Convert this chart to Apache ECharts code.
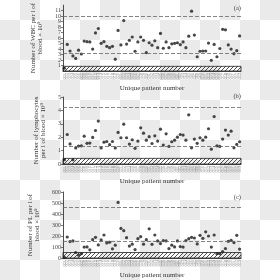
<!DOCTYPE html>
<html><head><meta charset="utf-8">
<script src="https://cdn.jsdelivr.net/npm/echarts@6/dist/echarts.min.js"></script>
<style>
html{background:repeating-conic-gradient(#eaeaea 0 25%, #ffffff 0 50%) 0 0/40px 40px;}
html,body{margin:0;padding:0;}
body{width:280px;height:280px;background:transparent;}
#c{width:280px;height:280px;background:transparent;}
</style></head><body><div id="c"></div>
<script>
const patients = ['001','002','003','004','005','006','007','008','009','010','011','012','013','014','015','016','017','018','019','020','021','022','023','024','025','026','027','028','029','030','031','032','033','034','035','036','037','038','039','040','041','042','043','044','045','046','047','048','049','050','051','052','053','054','055','056','057','058','059','060','061','062','063'];
const wbc = [0.5,4.85,3.65,2.75,2.3,3.8,3.1,5.45,5.35,5.3,4.0,6.95,7.75,5.05,5.35,4.5,4.25,4.5,2.15,7.4,4.75,9.2,4.9,5.6,6.2,3.6,5.3,6.2,5.6,3.35,5.15,4.7,5.5,4.25,6.85,4.15,5.3,4.25,4.95,5.05,5.15,4.8,5.3,4.25,6.35,10.9,6.55,2.6,3.6,3.65,3.65,5.1,1.95,4.85,2.6,4.1,7.6,7.5,4.75,4.0,3.15,3.7,6.4];
const lymph = [0.32,2.2,1.5,0.32,1.2,1.34,1.36,2.08,1.54,1.56,1.98,2.5,3.2,1.2,1.63,1.68,1.44,1.68,1.2,2.36,1.96,2.97,1.96,1.49,1.81,1.17,1.71,2.7,2.3,1.78,2.04,1.53,2.1,1.71,2.6,1.41,2.25,1.31,1.66,1.78,2.0,2.2,2.16,1.78,3.67,1.21,1.86,1.54,1.96,1.78,2.0,2.63,1.11,3.54,1.36,1.31,1.86,2.53,2.16,2.45,1.21,1.46,1.66];
const plt = [5,191,149,155,50,27,39,99,101,74,167,188,119,164,209,137,143,83,117,505,269,248,185,108,126,77,176,194,126,167,265,124,209,155,131,158,155,86,117,101,155,104,99,158,176,188,182,128,206,179,238,200,99,209,39,39,59,86,152,161,140,206,81];
const refLines = [[3.2,10],[1.32,4.24],[155,457]];
const hatchTop = [0.85,0.42,50];
const yMax = [12,5,600];
const yStep = [1,1,100];
const yNames = ['Number of WBC per l of\nblood × 10⁹','Number of lymphocytes\nper l of blood × 10⁹','Number of PL per l of\nblood × 10⁹'];
const panelTags = ['(a)','(b)','(c)'];
const xName = 'Unique patient number';

function hatch(){
  const c=document.createElement('canvas');c.width=4;c.height=4;
  const g=c.getContext('2d');g.strokeStyle='#222';g.lineWidth=0.8;
  g.beginPath();g.moveTo(0,4);g.lineTo(4,0);g.moveTo(-1,1);g.lineTo(1,-1);g.moveTo(3,5);g.lineTo(5,3);g.stroke();
  return c;
}
const pat = {image: hatch(), repeat: 'repeat'};
const serif = '"Liberation Serif","DejaVu Serif",serif';
const tops = [5,97,192];
const heights = [66,67,67];
const datasets = [wbc,lymph,plt];

const grid=[],xAxis=[],yAxis=[],series=[],graphic=[];
for(let i=0;i<3;i++){
  grid.push({left:63,top:tops[i],width:178,height:heights[i]});
  xAxis.push({type:'category',gridIndex:i,data:patients,boundaryGap:true,
    name:xName,nameLocation:'middle',nameGap:14,
    nameTextStyle:{fontFamily:serif,fontSize:7,color:'#333'},
    axisLine:{lineStyle:{color:'#222',width:0.8}},axisTick:{show:false},
    axisLabel:{show:true,interval:0,rotate:90,fontSize:4.4,margin:2,color:'#888',fontFamily:serif,hideOverlap:false}});
  yAxis.push({type:'value',gridIndex:i,min:0,max:yMax[i],interval:yStep[i],
    name:yNames[i],nameLocation:'middle',nameGap:11,
    nameTextStyle:{fontFamily:serif,fontSize:7,lineHeight:7,color:'#333'},
    axisLine:{show:true,lineStyle:{color:'#222',width:0.8}},
    axisTick:{show:true,length:2,lineStyle:{color:'#222',width:0.6}},
    splitLine:{show:false},
    axisLabel:{fontSize:6,margin:2,color:'#444',fontFamily:serif,hideOverlap:false}});
  series.push({type:'scatter',xAxisIndex:i,yAxisIndex:i,data:datasets[i],
    symbol:'circle',symbolSize:3.2,itemStyle:{color:'#1a1a1a'},silent:true,
    markLine:{silent:true,symbol:'none',label:{show:false},
      lineStyle:{type:[4,2],color:'#666',width:0.8},
      data:refLines[i].map(v=>({yAxis:v}))},
    markArea:{silent:true,
      itemStyle:{color:pat,borderColor:'#222',borderWidth:0.8},
      data:[[{yAxis:0},{yAxis:hatchTop[i]}]]}
  });
  graphic.push({type:'text',right:280-241,top:tops[i]+(i===0?0:(i===1?-4:2)),
    style:{text:panelTags[i],font:'6.5px '+serif,fill:'#444'}});
}
const chart=echarts.init(document.getElementById('c'),null,{renderer:'canvas'});
chart.setOption({animation:false,backgroundColor:'transparent',grid,xAxis,yAxis,series,graphic});
</script></body></html>
